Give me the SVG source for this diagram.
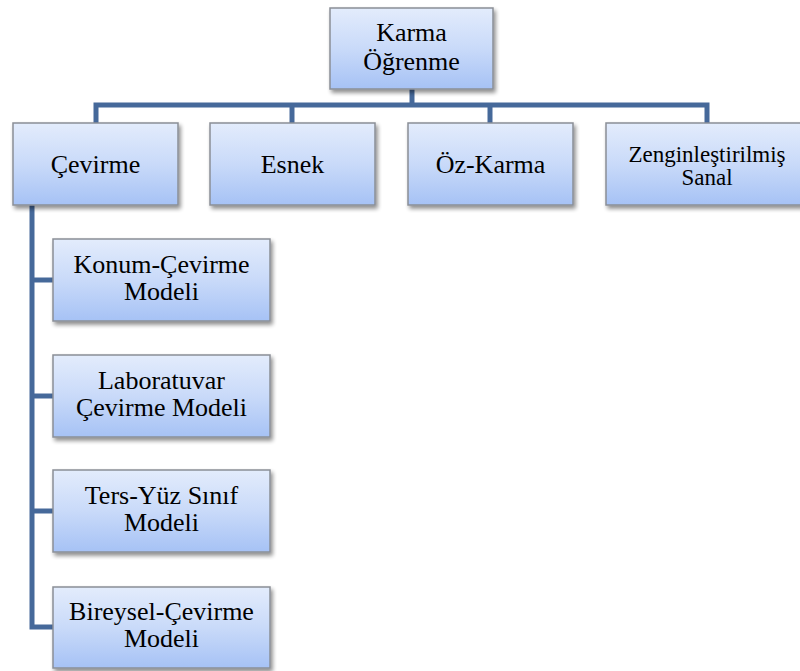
<svg xmlns="http://www.w3.org/2000/svg" width="800" height="671" viewBox="0 0 800 671">
  <defs>
    <linearGradient id="boxFill" x1="0" y1="0" x2="0" y2="1">
      <stop offset="0" stop-color="#e3ecfc"/>
      <stop offset="0.5" stop-color="#c9daf9"/>
      <stop offset="1" stop-color="#a6c2f5"/>
    </linearGradient>
    <filter id="shadow" x="-10%" y="-10%" width="125%" height="130%">
      <feGaussianBlur in="SourceAlpha" stdDeviation="2"/>
      <feOffset dx="2" dy="3" result="b"/>
      <feComponentTransfer><feFuncA type="linear" slope="0.45"/></feComponentTransfer>
      <feMerge><feMergeNode/><feMergeNode in="SourceGraphic"/></feMerge>
    </filter>
  </defs>
  <style>
    .box { fill: url(#boxFill); stroke: #8a8f96; stroke-width: 1.5; filter: url(#shadow); }
    .lbl { font-family: 'Liberation Serif', 'DejaVu Serif', serif; font-size: 26px; fill: #000; text-anchor: middle; }
    .sm { font-size: 23px; }
    .wire { fill: none; stroke: #46699a; stroke-width: 5; stroke-linejoin: miter; }
  </style>

  <g id="connectors">
    <path class="wire" d="M412,89 V105"/>
    <path class="wire" d="M96,123 V105 H707 V123"/>
    <path class="wire" d="M292,105 V123"/>
    <path class="wire" d="M490,105 V123"/>
    <path class="wire" d="M32,205 V627 H53"/>
    <path class="wire" d="M32,280 H53"/>
    <path class="wire" d="M32,396 H53"/>
    <path class="wire" d="M32,511 H53"/>
  </g>

  <g id="karma-ogrenme">
    <rect class="box" x="330" y="8" width="163" height="81"/>
    <text class="lbl" x="411.5" y="41" font-family="Liberation Serif, serif">Karma</text>
    <text class="lbl" x="411.5" y="70" font-family="Liberation Serif, serif">Öğrenme</text>
  </g>

  <g id="cevirme">
    <rect class="box" x="13" y="123" width="165" height="82"/>
    <text class="lbl" x="95.5" y="173">Çevirme</text>
  </g>

  <g id="esnek">
    <rect class="box" x="210" y="123" width="165" height="82"/>
    <text class="lbl" x="292.5" y="173">Esnek</text>
  </g>

  <g id="oz-karma">
    <rect class="box" x="408" y="123" width="165" height="82"/>
    <text class="lbl" x="490.5" y="173">Öz-Karma</text>
  </g>

  <g id="zenginlestirilmis-sanal">
    <rect class="box" x="606" y="123" width="200" height="82"/>
    <text class="lbl sm" x="707" y="162">Zenginleştirilmiş</text>
    <text class="lbl sm" x="707" y="185">Sanal</text>
  </g>

  <g id="konum-cevirme">
    <rect class="box" x="53" y="239" width="217" height="82"/>
    <text class="lbl" x="161.5" y="273">Konum-Çevirme</text>
    <text class="lbl" x="161.5" y="300">Modeli</text>
  </g>

  <g id="laboratuvar-cevirme">
    <rect class="box" x="53" y="355" width="217" height="82"/>
    <text class="lbl" x="161.5" y="389">Laboratuvar</text>
    <text class="lbl" x="161.5" y="416">Çevirme Modeli</text>
  </g>

  <g id="ters-yuz-sinif">
    <rect class="box" x="53" y="470" width="217" height="82"/>
    <text class="lbl" x="161.5" y="504">Ters-Yüz Sınıf</text>
    <text class="lbl" x="161.5" y="531">Modeli</text>
  </g>

  <g id="bireysel-cevirme">
    <rect class="box" x="53" y="587" width="217" height="81"/>
    <text class="lbl" x="161.5" y="620">Bireysel-Çevirme</text>
    <text class="lbl" x="161.5" y="647">Modeli</text>
  </g>
</svg>
